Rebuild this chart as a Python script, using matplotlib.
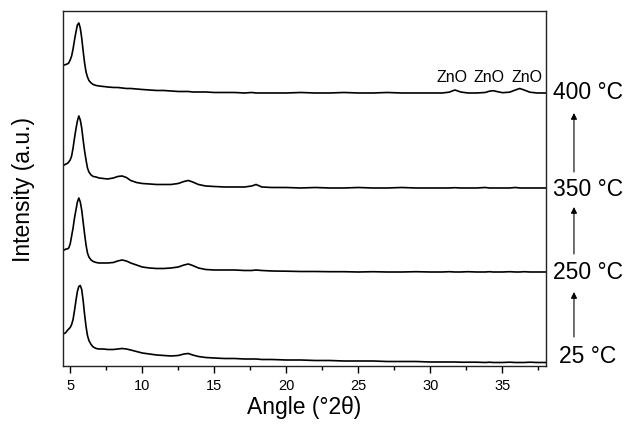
"""Stacked XRD patterns of the sample heated to 25, 250, 350 and 400 C."""

import matplotlib
matplotlib.use("Agg")
import matplotlib.pyplot as plt
import matplotlib.transforms as mtransforms
from matplotlib.ticker import MultipleLocator

plt.rcParams["font.family"] = ["Liberation Sans", "DejaVu Sans"]

# 2-theta grid shared by all four patterns
ANGLE = [
    4.5, 4.6, 4.7, 4.8, 4.9, 5.0, 5.1, 5.2, 5.3, 5.4, 5.5, 5.6, 5.7, 5.8, 5.9, 6.0, 6.1, 6.2, 6.3,
    6.45, 6.6, 6.8, 7.0, 7.3, 7.6, 8.0, 8.3, 8.6, 8.9, 9.2, 9.6, 10.0,
    10.5, 11.0, 11.5, 12.0, 12.5, 12.9, 13.2, 13.5, 13.9, 14.4, 15.0,
    15.7, 16.4, 17.1, 17.6, 17.9, 18.3, 19.0,
    20, 21, 22, 23, 24, 25, 26, 27, 28, 29, 30,
    30.8, 31.3, 31.7, 32.1, 32.6, 33.2, 33.8, 34.1, 34.35, 34.6, 35.0, 35.5, 35.9, 36.2, 36.5, 36.9, 37.4, 38.0,
]

# intensities (a.u.), each above its own baseline
I_25 = [
    29, 29, 30, 32, 33.5, 35, 38, 43, 52, 62, 71, 76, 77, 73, 62, 48, 36, 27, 22,
    18, 15.5, 14, 13.5, 13.5, 13, 13, 13.5, 14, 13.5, 12.5, 11, 9.5,
    8.5, 7.5, 7, 6.5, 7, 8.5, 9, 7.5, 6, 5, 4.5,
    4, 4, 3.5, 3.5, 3.5, 3, 3,
    2.5, 2.5, 2, 2, 1.5, 1.5, 1.5, 1, 1, 1, 0.5,
    0.5, 0.5, 0.5, 0.3, 0.3, 0.3, 0, 0.3, 0, 0, 0, 0.3, 0, 0, 0, 0.3, 0, 0,
]
I_250 = [
    22, 22, 23, 23, 24, 28, 36, 44, 54, 62, 70, 74, 70, 62, 50, 38, 27, 19, 15,
    12, 10.5, 9.5, 9, 9, 9, 9.5, 11, 12, 11, 9, 7, 5,
    4, 3.5, 3.5, 4, 5, 7, 8, 6.5, 4, 2.5, 2,
    2, 2, 1.5, 1.5, 2, 1.5, 1,
    0.8, 0.5, 0.5, 0.3, 0.3, 0, 0.3, 0, 0, 0.3, 0,
    0, 0.3, 0, 0, 0.3, 0, 0, 0.3, 0, 0, 0, 0.3, 0, 0, 0.3, 0, 0, 0,
]
I_350 = [
    23, 23, 24, 24.5, 26, 28, 32, 40, 50, 59, 67, 72, 68, 60, 48, 37, 28, 20, 16,
    13, 11.5, 11, 10, 9.5, 9, 10, 11.5, 12, 10.5, 7.5, 5.5, 4.5,
    4, 3.5, 3.5, 3.5, 4.5, 6.5, 7.5, 6, 3.5, 2, 1.5,
    1, 1, 1, 2, 3.5, 1, 0.5,
    0.5, 0, 0.5, 0, 0, 0.5, 0, 0, 0.5, 0, 0,
    0, 0, 0.3, 0, 0, 0, 0.5, 0, 0, 0, 0, 0, 0.5, 0, 0, 0, 0, 0,
]
I_400 = [
    28, 28, 28.5, 29, 30, 33, 37, 44, 53, 61, 68, 70, 65, 55, 42, 30, 21, 16, 12.5,
    10, 8.5, 7.5, 7, 6.5, 6, 5.5, 5.5, 5, 4.5, 4.5, 4, 3.5,
    3, 2.5, 2.5, 2, 1.5, 1.5, 1.5, 1, 1, 1, 0.5,
    0.5, 0.5, 0, 0.5, 0, 0, 0,
    0, 0.5, 0, 0, 0.5, 0, 0, 0.5, 0, 0, 0,
    0, 0.8, 3, 1, 0, 0, 0.5, 1.8, 2.3, 1.5, 0.3, 0.8, 3, 4.5, 3, 0.8, 0, 0,
]

TEMPS = ["25 °C", "250 °C", "350 °C", "400 °C"]
PATTERNS = [I_25, I_250, I_350, I_400]
ZNO_ANGLES = [31.5, 34.1, 36.7]

OFFSETS = [3.5, 94, 178, 273]
LABEL_Y = [10, 94, 177, 274]
ARROWS = [(29, 74), (112, 159), (194, 253)]


def main():
    fig = plt.figure(figsize=(6.26, 4.31), dpi=100)
    ax = fig.add_axes([0.1006, 0.1485, 0.7711, 0.8237])

    for vals, off in zip(PATTERNS, OFFSETS):
        ax.plot(ANGLE, [v + off for v in vals], color="black", lw=1.2)

    for a in ZNO_ANGLES:
        ax.text(a, 289, "ZnO", ha="center", va="center", fontsize=11.5)

    ax.set_xlim(4.5, 38)
    ax.set_ylim(0, 355)
    ax.xaxis.set_major_locator(MultipleLocator(5))
    ax.xaxis.set_minor_locator(MultipleLocator(2.5))
    ax.tick_params(axis="x", which="major", length=5, width=1, labelsize=10.5, pad=4)
    ax.tick_params(axis="x", which="minor", length=3, width=1)
    ax.set_yticks([])
    for sp in ax.spines.values():
        sp.set_linewidth(1.0)
        sp.set_color("#222222")

    ax.set_xlabel("Angle (°2θ)", fontsize=16.5, labelpad=2)
    ax.set_ylabel("Intensity (a.u.)", fontsize=16.5)
    ax.yaxis.set_label_coords(-0.058, 0.5)

    trans = mtransforms.blended_transform_factory(ax.transAxes, ax.transData)
    for lab, y in zip(TEMPS, LABEL_Y):
        ax.text(1.0876, y, lab, transform=trans, ha="center", va="center",
                fontsize=16.5, clip_on=False)
    for y0, y1 in ARROWS:
        ax.annotate("", xy=(1.0586, y1), xytext=(1.0586, y0), xycoords=trans,
                    textcoords=trans, annotation_clip=False,
                    arrowprops=dict(arrowstyle="-|>", lw=0.8, color="black",
                                    mutation_scale=9, shrinkA=0, shrinkB=0))

    fig.savefig("out.png", dpi=100, facecolor="white")


if __name__ == "__main__":
    main()
